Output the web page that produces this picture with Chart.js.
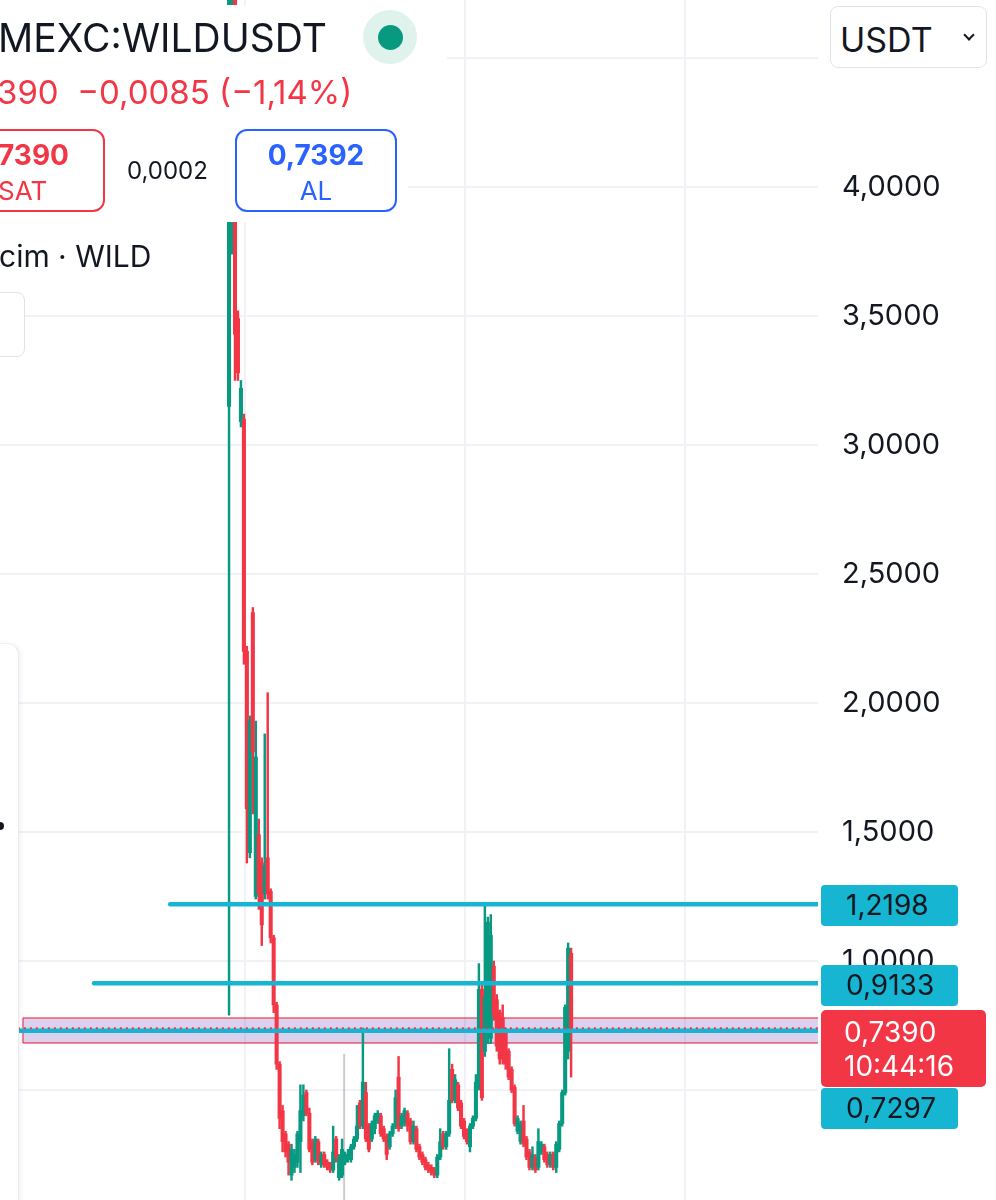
<!DOCTYPE html>
<html>
<head>
<meta charset="utf-8" />
<script src="https://cdn.jsdelivr.net/npm/chart.js@4.4.0/dist/chart.umd.min.js"></script>
<style>
  body { margin: 0; width: 996px; height: 1200px; overflow: hidden; background: #fff; font-family: 'Inter', sans-serif; color: #131722; position: relative; }
  #chart { position: absolute; left: 0; top: 0; }
  .txt { position: absolute; white-space: nowrap; line-height: 1; }
  .box { position: absolute; box-sizing: border-box; }
  .tag { position: absolute; box-sizing: border-box; background: #16b6d2; border-radius: 4px; left: 821px; width: 137px; height: 41px; font-size: 28px; line-height: 41px; padding-left: 25px; color: #131722; }
</style>
</head>
<body>
<canvas id="chart" width="996" height="1200"></canvas>

<!-- header panel (covers the chart like the app does) -->
<div class="box" style="left:0;top:5px;width:447px;height:67px;background:#fff;"></div>
<div class="box" style="left:0;top:72px;width:408px;height:150px;background:#fff;"></div>
<div class="txt" style="left:-2px;top:18px;font-size:39px;">MEXC:WILDUSDT</div>
<div class="box" style="left:363px;top:10px;width:54px;height:54px;border-radius:50%;background:#dff2ec;"></div>
<div class="box" style="left:378px;top:25px;width:25px;height:25px;border-radius:50%;background:#089981;"></div>
<div class="txt" style="left:-3px;top:76px;font-size:33px;color:#f23645;">390&nbsp; −0,0085 (−1,14%)</div>

<div class="box" style="left:-14px;top:129px;width:119px;height:83px;border:2px solid #f23645;border-radius:12px;"></div>
<div class="txt" style="left:-2px;top:141px;font-size:28px;font-weight:700;color:#f23645;">7390</div>
<div class="txt" style="left:-2px;top:178px;font-size:26px;color:#f23645;">SAT</div>
<div class="txt" style="left:127px;top:159px;font-size:24px;">0,0002</div>
<div class="box" style="left:235px;top:129px;width:162px;height:83px;border:2px solid #2962ff;border-radius:12px;"></div>
<div class="txt" style="left:235px;width:162px;text-align:center;top:141px;font-size:28px;font-weight:700;color:#2962ff;">0,7392</div>
<div class="txt" style="left:235px;width:162px;text-align:center;top:178px;font-size:26px;color:#2962ff;">AL</div>
<div class="txt" style="left:-1px;top:241px;font-size:30px;">cim · WILD</div>
<div class="box" style="left:-12px;top:292px;width:37px;height:65px;border:1.5px solid #dfe2ea;border-radius:8px;background:#fff;"></div>

<!-- left side panel -->
<div class="box" style="left:-20px;top:643px;width:39px;height:600px;background:#fff;border-right:1.5px solid #e8eaef;border-top:1.5px solid #eef0f3;border-top-right-radius:12px;box-shadow:2px 0 4px rgba(0,0,0,0.05);"></div>
<div class="box" style="left:-4px;top:822px;width:8px;height:8px;border-radius:50%;background:#131722;"></div>

<!-- price scale widgets -->
<div class="box" style="left:830px;top:6px;width:157px;height:62px;border:1.5px solid #e0e3eb;border-radius:8px;background:#fff;"></div>
<div class="txt" style="left:840px;top:23px;font-size:34px;">USDT</div>
<div class="box" style="left:965px;top:31px;width:8px;height:8px;border-right:2.5px solid #131722;border-bottom:2.5px solid #131722;transform:rotate(45deg);"></div>

<div class="tag" style="top:885px;">1,2198</div>
<div class="tag" style="top:965px;">0,9133</div>
<div class="box" style="left:821px;top:1010px;width:165px;height:77px;background:#f23645;border-radius:5px;"></div>
<div class="txt" style="left:844px;top:1018px;font-size:28px;color:#fff;">0,7390</div>
<div class="txt" style="left:844px;top:1052px;font-size:28px;color:#fff;">10:44:16</div>
<div class="tag" style="top:1088px;">0,7297</div>

<script>
/* ---------- Candles (open / high / low / close) ---------- */
const O = [3.15,3.76,4.80,3.49,3.09,3.10,2.20,1.42,2.35,1.25,1.49,1.38,1.26,1.40,1.27,1.09,0.83,0.60,0.42,0.33,
           0.29,0.17,0.20,0.22,0.30,0.40,0.49,0.41,0.30,0.23,0.30,0.21,0.25,0.22,0.21,0.19,0.31,0.16,0.17,0.22,
           0.23,0.23,0.28,0.31,0.45,0.36,0.49,0.36,0.31,0.35,0.38,0.40,0.35,0.32,0.28,0.33,0.36,0.55,0.36,0.37,
           0.41,0.38,0.30,0.35,0.28,0.25,0.23,0.21,0.20,0.19,0.17,0.24,0.33,0.28,0.33,0.58,0.46,0.52,0.45,0.38,
           0.34,0.28,0.36,0.39,0.53,0.89,0.65,0.72,0.70,0.98,0.85,0.80,0.78,0.73,0.65,0.58,0.51,0.34,0.30,0.38,
           0.31,0.26,0.20,0.24,0.20,0.26,0.28,0.25,0.21,0.25,0.20,0.27,0.37,0.49,0.65,1.03];
const H = [5.20,4.95,4.85,3.52,3.25,3.12,2.22,1.95,2.37,1.93,1.55,1.40,1.88,2.04,1.28,1.10,0.84,0.61,0.44,0.34,
           0.30,0.29,0.27,0.34,0.52,0.52,0.50,0.43,0.31,0.32,0.31,0.26,0.26,0.23,0.22,0.36,0.32,0.25,0.31,0.26,
           0.27,0.29,0.32,0.44,0.46,0.74,0.53,0.37,0.38,0.41,0.42,0.41,0.36,0.33,0.34,0.37,0.50,0.63,0.41,0.43,
           0.42,0.39,0.38,0.36,0.29,0.26,0.24,0.22,0.21,0.20,0.25,0.35,0.34,0.34,0.66,0.60,0.56,0.53,0.46,0.39,
           0.35,0.37,0.40,0.56,0.99,0.92,1.22,1.17,1.18,1.00,0.87,0.81,0.83,0.74,0.66,0.59,0.52,0.40,0.38,0.44,
           0.32,0.27,0.28,0.25,0.35,0.30,0.29,0.26,0.26,0.26,0.30,0.38,0.50,0.83,1.07,1.05];
const L = [0.79,3.74,3.25,3.25,3.07,2.15,1.38,1.40,1.57,1.24,1.20,1.06,1.24,1.24,1.07,0.80,0.58,0.35,0.26,0.24,
           0.17,0.15,0.18,0.20,0.18,0.38,0.40,0.26,0.21,0.22,0.21,0.20,0.20,0.19,0.18,0.18,0.22,0.15,0.16,0.21,
           0.22,0.22,0.27,0.30,0.35,0.35,0.30,0.26,0.30,0.33,0.37,0.32,0.30,0.23,0.27,0.32,0.35,0.34,0.35,0.36,
           0.34,0.29,0.29,0.26,0.23,0.21,0.19,0.18,0.17,0.16,0.16,0.23,0.27,0.27,0.32,0.45,0.45,0.42,0.35,0.31,
           0.29,0.26,0.35,0.38,0.50,0.46,0.63,0.68,0.68,0.77,0.65,0.60,0.60,0.58,0.54,0.49,0.36,0.33,0.29,0.28,
           0.23,0.19,0.19,0.18,0.19,0.25,0.22,0.20,0.20,0.19,0.18,0.26,0.36,0.48,0.62,0.55];
const C = [4.90,4.80,3.43,3.28,3.22,2.20,1.59,1.93,1.81,1.79,1.26,1.14,1.37,1.26,1.09,0.83,0.60,0.39,0.30,0.26,
           0.22,0.27,0.25,0.33,0.42,0.48,0.41,0.27,0.22,0.31,0.22,0.25,0.21,0.20,0.19,0.26,0.24,0.24,0.27,0.25,
           0.25,0.28,0.31,0.36,0.36,0.53,0.31,0.27,0.37,0.40,0.41,0.33,0.31,0.25,0.33,0.36,0.47,0.35,0.40,0.42,
           0.36,0.30,0.36,0.27,0.24,0.22,0.20,0.19,0.18,0.17,0.24,0.30,0.28,0.33,0.46,0.46,0.54,0.43,0.36,0.32,
           0.30,0.36,0.39,0.53,0.89,0.47,0.86,1.15,1.10,0.79,0.67,0.62,0.62,0.60,0.55,0.50,0.37,0.39,0.37,0.29,
           0.24,0.20,0.25,0.19,0.30,0.29,0.23,0.21,0.25,0.20,0.29,0.37,0.49,0.82,1.05,0.739];

/* ---------- Axes ---------- */
const yTicks = [0.5, 1.0, 1.5, 2.0, 2.5, 3.0, 3.5, 4.0, 4.5];
const timeGrid = [5.4, 79.4, 153.3];           // session separators (bar index)
const X_MIN = -77, X_MAX = 198;
const Y_MIN = 0.0736, Y_MAX = 4.7248;

/* ---------- Drawings ---------- */
const levels = [1.2198, 0.9133, 0.7297];
const levelStart = [-19.8, -45.4, -70.9];
const lastPrice = 0.7390;
const zoneTop = 0.779, zoneBottom = 0.682, zoneStart = -69.3;
const markerBar = 38.7, markerTop = 0.64;

const UP = '#089981', DOWN = '#f23645', CYAN = '#16b6d2', GRID = '#f0f2f6';

const idx = O.map((_, i) => i);
const cols = idx.map(i => C[i] >= O[i] ? UP : DOWN);

const datasets = [];

levels.forEach((v, k) => {
  datasets.push({ type: 'line', order: 1, data: [{ x: levelStart[k], y: v }, { x: X_MAX, y: v }],
    borderColor: CYAN, borderWidth: 4.5, pointRadius: 0, borderCapStyle: 'round' });
});
datasets.unshift({ type: 'line', order: 0, data: [{ x: zoneStart - 1.7, y: lastPrice }, { x: X_MAX, y: lastPrice }],
  borderColor: DOWN, borderWidth: 2, borderDash: [2, 4], pointRadius: 0 });

datasets.push({ type: 'bar', order: 2, grouped: false, barThickness: 3.4, minBarLength: 1,
  data: idx.map(i => ({ x: i, y: [O[i], C[i]] })), backgroundColor: cols });
datasets.push({ type: 'bar', order: 3, grouped: false, barThickness: 1.8,
  data: idx.map(i => ({ x: i, y: [L[i], H[i]] })), backgroundColor: cols });

datasets.push({ type: 'line', order: 4, data: [{ x: markerBar, y: markerTop }, { x: markerBar, y: 0 }],
  borderColor: 'rgba(178,181,190,0.7)', borderWidth: 2, pointRadius: 0 });

// highlighted zone
const zoneBorder = 'rgba(242,54,69,0.6)';
datasets.push({ type: 'line', order: 5, data: [{ x: zoneStart, y: zoneTop }, { x: X_MAX + 2, y: zoneTop }],
  borderColor: zoneBorder, borderWidth: 2, pointRadius: 0, fill: '+1', backgroundColor: 'rgba(103,58,183,0.24)' });
datasets.push({ type: 'line', order: 6, data: [{ x: zoneStart, y: zoneBottom }, { x: X_MAX + 2, y: zoneBottom }],
  borderColor: zoneBorder, borderWidth: 2, pointRadius: 0 });
datasets.push({ type: 'line', order: 6, data: [{ x: zoneStart, y: zoneBottom }, { x: zoneStart, y: zoneTop }],
  borderColor: zoneBorder, borderWidth: 2, pointRadius: 0 });

new Chart(document.getElementById('chart'), {
  type: 'bar',
  data: { datasets },
  options: {
    responsive: false, animation: false, events: [],
    layout: { padding: 0 },
    plugins: { legend: { display: false }, tooltip: { enabled: false } },
    scales: {
      x: {
        type: 'linear', min: X_MIN, max: X_MAX, offset: false,
        afterBuildTicks: s => { s.ticks = timeGrid.map(v => ({ value: v })); },
        afterFit: s => { s.height = 0; s.paddingLeft = 0; s.paddingRight = 0; },
        ticks: { display: false },
        grid: { color: GRID, lineWidth: 2, drawTicks: false, offset: false },
        border: { display: false }
      },
      y: {
        type: 'linear', position: 'right', min: Y_MIN, max: Y_MAX,
        afterBuildTicks: s => { s.ticks = yTicks.map(v => ({ value: v })); },
        afterFit: s => { s.width = 178; s.paddingTop = 0; s.paddingBottom = 0; },
        ticks: {
          padding: 24, color: '#131722', font: { family: 'Inter', size: 29 },
          // labels under the currency button / price tags are covered in the app
          callback: v => (v >= 1 && v <= 4) ? v.toFixed(4).replace('.', ',') : ''
        },
        grid: { color: GRID, lineWidth: 2, drawTicks: false },
        border: { display: false }
      }
    }
  }
});
</script>
</body>
</html>
